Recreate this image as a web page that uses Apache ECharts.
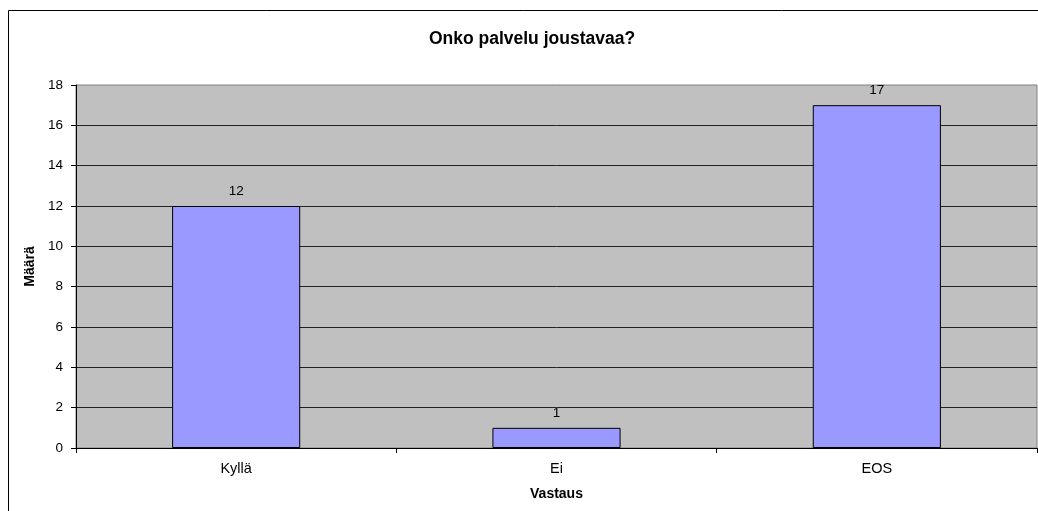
<!DOCTYPE html>
<html>
<head>
<meta charset="utf-8">
<script src="https://cdn.jsdelivr.net/npm/echarts@6/dist/echarts.min.js"></script>
<style>
html,body{margin:0;padding:0;background:#fff;}
#c{width:1038px;height:511px;}
</style>
</head>
<body>
<div id="c"></div>
<script>
const categories = ['Kyllä', 'Ei', 'EOS'];
const values = [12, 1, 17];
const yTicks = {min: 0, max: 18, interval: 2};
const titleText = 'Onko palvelu joustavaa?';
const xName = 'Vastaus';
const yName = 'Määrä';

const chart = echarts.init(document.getElementById('c'), null, {renderer: 'canvas'});
const font = 'Liberation Sans, Arial, sans-serif';
chart.setOption({
  animation: false,
  backgroundColor: '#fff',
  textStyle: {fontFamily: font},
  title: {
    text: titleText, left: 527, top: 25, textAlign: 'center',
    textStyle: {fontFamily: font, fontSize: 17.5, fontWeight: 'bold', color: '#000'}
  },
  graphic: [{
    type: 'rect', silent: true,
    shape: {x: 8.5, y: 10.5, width: 1100, height: 600},
    style: {fill: 'none', stroke: '#000', lineWidth: 1}
  }],
  grid: {
    left: 76, right: 1, top: 85, bottom: 63,
    show: true, backgroundColor: '#c0c0c0', borderColor: '#808080', borderWidth: 1
  },
  xAxis: {
    type: 'category', data: categories,
    name: xName, nameLocation: 'middle', nameGap: 39,
    nameTextStyle: {fontFamily: font, fontSize: 14, fontWeight: 'bold', color: '#000'},
    axisLine: {lineStyle: {color: '#000', width: 1}},
    axisTick: {show: true, length: 5, lineStyle: {color: '#000'}},
    axisLabel: {fontFamily: font, fontSize: 14.5, color: '#000', margin: 13},
    splitLine: {show: false}
  },
  yAxis: {
    type: 'value', min: yTicks.min, max: yTicks.max, interval: yTicks.interval,
    name: yName, nameLocation: 'middle', nameGap: 33, nameRotate: 90,
    nameTextStyle: {fontFamily: font, fontSize: 14, fontWeight: 'bold', color: '#000'},
    axisLine: {show: true, lineStyle: {color: '#000', width: 1}},
    axisTick: {show: true, length: 5, lineStyle: {color: '#000'}},
    axisLabel: {fontFamily: font, fontSize: 13.5, color: '#000', margin: 13},
    splitLine: {show: true, showMaxLine: false, lineStyle: {color: '#222', width: 1}}
  },
  series: [{
    type: 'bar', data: values, barWidth: '40%',
    itemStyle: {color: '#9999ff', borderColor: '#000', borderWidth: 1},
    label: {show: true, position: 'top', distance: 8, fontFamily: font, fontSize: 13.5, color: '#000'}
  }]
});
</script>
</body>
</html>
